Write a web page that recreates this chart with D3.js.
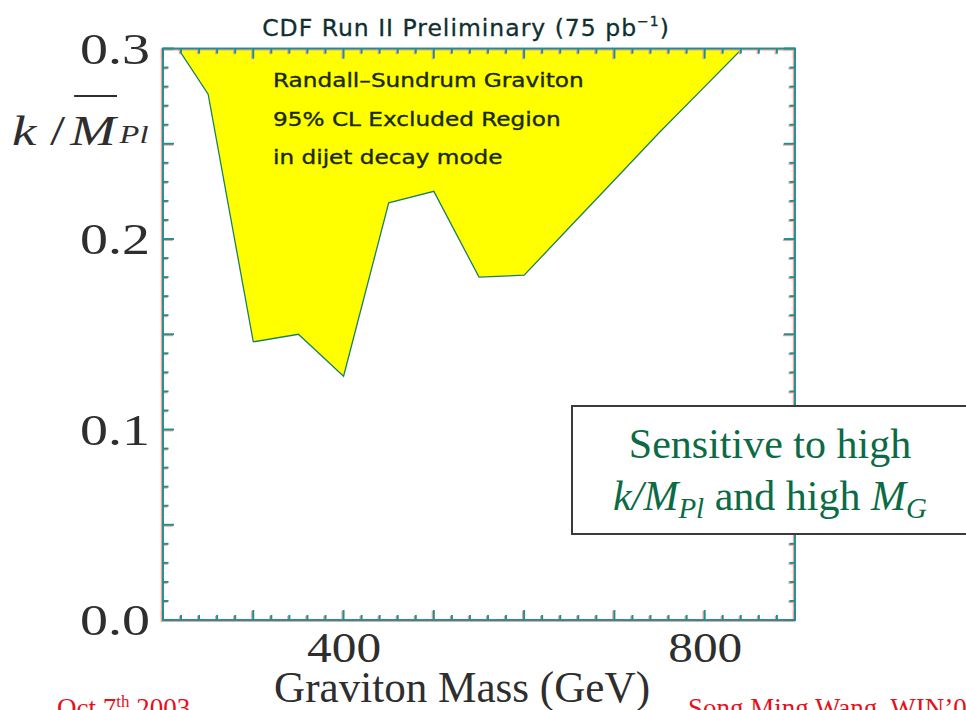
<!DOCTYPE html>
<html>
<head>
<meta charset="utf-8">
<script src="https://cdn.jsdelivr.net/npm/d3@7"></script>
<style>
  html, body { margin: 0; padding: 0; background: #fff; overflow: hidden; }
  svg { display: block; }
</style>
</head>
<body>
<svg id="chart" width="966" height="710"></svg>
<script>
// Graviton mass points (GeV) and the 95% CL upper edge of the allowed region in k/M_Pl
const massGeV = [200, 250, 300, 350, 400, 450, 500, 550, 600, 650, 700, 750, 800, 850];
const limitK  = [0.312, 0.276, 0.146, 0.150, 0.128, 0.219, 0.225, 0.180, 0.181, 0.206, 0.231, 0.256, 0.280, 0.304];

// Axis ranges and tick sets
const xDomain = [200, 900];
const yDomain = [0, 0.3];
const xMinorTicks = d3.range(200, 901, 20);
const xLabelTicks = [400, 800];
const yMinorTicks = d3.range(0, 31, 1).map(v => v / 100);
const yLabelTicks = [0, 0.1, 0.2, 0.3];

const titleText = "CDF Run II Preliminary (75 pb";
const regionLines = ["Randall\u2013Sundrum Graviton", "95% CL Excluded Region", "in dijet decay mode"];

const svg = d3.select("#chart");
const x = d3.scaleLinear().domain(xDomain).range([163, 795]);
const y = d3.scaleLinear().domain(yDomain).range([620, 48.5]);

const data = massGeV.map((m, i) => ({ m, k: limitK[i] }));

const serif = "'Liberation Serif', 'Times New Roman', serif";
const sans = "'DejaVu Sans', sans-serif";
const frameCol = "#1a918c";
const haloCol = "#f4a0a0";

// Plot clip
svg.append("defs").append("clipPath").attr("id", "plotClip")
  .append("rect")
  .attr("x", x(xDomain[0])).attr("y", y(yDomain[1]))
  .attr("width", x(xDomain[1]) - x(xDomain[0]))
  .attr("height", y(yDomain[0]) - y(yDomain[1]));

// Excluded region: everything above the limit curve
const area = d3.area()
  .x(d => x(d.m))
  .y0(y(0.35))
  .y1(d => y(d.k));
const line = d3.line().x(d => x(d.m)).y(d => y(d.k));

const plot = svg.append("g").attr("clip-path", "url(#plotClip)");
plot.append("path").datum(data).attr("d", area).attr("fill", "#ffff00");
plot.append("path").datum(data).attr("d", line)
  .attr("fill", "none").attr("stroke", "#1d7f66").attr("stroke-width", 1.3);

// Frame and inward ticks, drawn twice: a soft pink halo then the teal stroke
function drawFrame(color, width, dx, dy) {
  const g = svg.append("g").attr("transform", `translate(${dx},${dy})`)
    .attr("stroke", color).attr("stroke-width", width).attr("fill", "none");
  const xLen = v => (v % 100 === 0 ? 10 : 5);
  const yLen = v => (Math.round(v * 100) % 5 === 0 ? 11 : 5.5);
  const y0 = y(yDomain[0]), y1 = y(yDomain[1]);
  const x0 = x(xDomain[0]), x1 = x(xDomain[1]);
  // bottom and top ticks
  g.selectAll("line.xb").data(xMinorTicks).join("line").attr("class", "xb")
    .attr("x1", d => x(d)).attr("x2", d => x(d))
    .attr("y1", y0).attr("y2", d => y0 - xLen(d));
  g.selectAll("line.xt").data(xMinorTicks).join("line").attr("class", "xt")
    .attr("x1", d => x(d)).attr("x2", d => x(d))
    .attr("y1", y1).attr("y2", d => y1 + xLen(d));
  // left and right ticks
  g.selectAll("line.yl").data(yMinorTicks).join("line").attr("class", "yl")
    .attr("y1", d => y(d)).attr("y2", d => y(d))
    .attr("x1", x0).attr("x2", d => x0 + yLen(d));
  g.selectAll("line.yr").data(yMinorTicks).join("line").attr("class", "yr")
    .attr("y1", d => y(d)).attr("y2", d => y(d))
    .attr("x1", x1).attr("x2", d => x1 - yLen(d));
  g.append("rect")
    .attr("x", x0).attr("y", y1)
    .attr("width", x1 - x0).attr("height", y0 - y1);
}
drawFrame(haloCol, 2.4, -1, 0.8);
drawFrame(frameCol, 1.9, 0, 0);

// Title above the frame
const title = svg.append("text")
  .attr("x", 466).attr("y", 36)
  .attr("text-anchor", "middle")
  .attr("font-family", sans).attr("font-size", 23.5)
  .attr("letter-spacing", 1)
  .attr("fill", "#0f3030").attr("stroke", "#0f3030").attr("stroke-width", 0.3);
title.append("tspan").text(titleText);
title.append("tspan").attr("font-size", 14).attr("dy", -10).text("\u22121");
title.append("tspan").attr("dy", 10).text(")");

// Text inside the excluded region, set in a wide face
const regionText = svg.append("g").selectAll("text").data(regionLines).join("text")
  .attr("x", 273).attr("y", (d, i) => 87 + i * 38.5)
  .attr("font-family", sans).attr("font-size", 19)
  .attr("fill", "#182a06").attr("stroke", "#182a06").attr("stroke-width", 0.35)
  .text(d => d);
regionText.each(function () {
  const w = this.getComputedTextLength();
  d3.select(this).attr("textLength", w * 1.22).attr("lengthAdjust", "spacingAndGlyphs");
});

// Tick labels
const yLab = svg.append("g")
  .attr("transform", `translate(${x(200)},0)`)
  .call(d3.axisLeft(y).tickValues(yLabelTicks).tickFormat(d3.format(".1f")).tickSize(0).tickPadding(13));
yLab.select(".domain").remove();
yLab.selectAll("text").attr("font-family", serif).attr("font-size", 44).attr("fill", "#2e2e2e")
  .attr("dy", "0.34em").attr("textLength", 70).attr("lengthAdjust", "spacingAndGlyphs");

const xLab = svg.append("g")
  .attr("transform", `translate(0,${y(0)})`)
  .call(d3.axisBottom(x).tickValues(xLabelTicks).tickFormat(d3.format("d")).tickSize(0).tickPadding(11));
xLab.select(".domain").remove();
xLab.selectAll("text").attr("font-family", serif).attr("font-size", 43).attr("fill", "#2e2e2e")
  .attr("textLength", 74).attr("lengthAdjust", "spacingAndGlyphs");

// Axis title
svg.append("text")
  .attr("x", 462).attr("y", 702)
  .attr("text-anchor", "middle")
  .attr("font-family", serif).attr("font-size", 45).attr("fill", "#2e2e2e")
  .attr("textLength", 376).attr("lengthAdjust", "spacingAndGlyphs")
  .text("Graviton Mass (GeV)");

// Y axis label: k / M-bar_Pl (horizontally widened)
const yt = svg.append("g").attr("font-family", serif).attr("fill", "#2e2e2e")
  .attr("transform", "translate(12,0) scale(1.3,1)");
const kTxt = yt.append("text").attr("x", 0).attr("y", 145).attr("font-size", 42);
kTxt.append("tspan").attr("font-style", "italic").text("k");
kTxt.append("tspan").text(" / ");
const mStart = kTxt.node().getComputedTextLength() + 4;
const mTxt = yt.append("text").attr("x", mStart).attr("y", 145)
  .attr("font-size", 42).attr("font-style", "italic").text("M");
const mW = mTxt.node().getComputedTextLength();
yt.append("line")
  .attr("x1", mStart + 3).attr("x2", mStart + mW + 1)
  .attr("y1", 96).attr("y2", 96)
  .attr("stroke", "#2e2e2e").attr("stroke-width", 2);
yt.append("text").attr("x", mStart + mW + 3).attr("y", 143)
  .attr("font-size", 25).attr("font-style", "italic").text("Pl");

// Annotation box
svg.append("rect")
  .attr("x", 572).attr("y", 406).attr("width", 410).attr("height", 128)
  .attr("fill", "#fff").attr("stroke", "#3a3a3a").attr("stroke-width", 2);
const note = svg.append("g").attr("font-family", serif).attr("fill", "#0b6b45").attr("font-size", 42);
note.append("text").attr("x", 770).attr("y", 458).attr("text-anchor", "middle").text("Sensitive to high");
const l2 = note.append("text").attr("x", 770).attr("y", 510).attr("text-anchor", "middle");
l2.append("tspan").attr("font-style", "italic").text("k/M");
l2.append("tspan").attr("font-style", "italic").attr("font-size", 29).attr("dy", 8).text("Pl");
l2.append("tspan").attr("dy", -8).text(" and high ");
l2.append("tspan").attr("font-style", "italic").text("M");
l2.append("tspan").attr("font-style", "italic").attr("font-size", 29).attr("dy", 8).text("G");

// Footer
const foot = svg.append("g").attr("font-family", serif).attr("fill", "#e8101a").attr("font-size", 27);
const f1 = foot.append("text").attr("x", 57).attr("y", 717);
f1.append("tspan").text("Oct 7");
f1.append("tspan").attr("font-size", 17).attr("dy", -10).text("th");
f1.append("tspan").attr("dy", 10).text(" 2003");
foot.append("text").attr("x", 688).attr("y", 717).text("Song Ming Wang, WIN\u201903");
</script>
</body>
</html>
